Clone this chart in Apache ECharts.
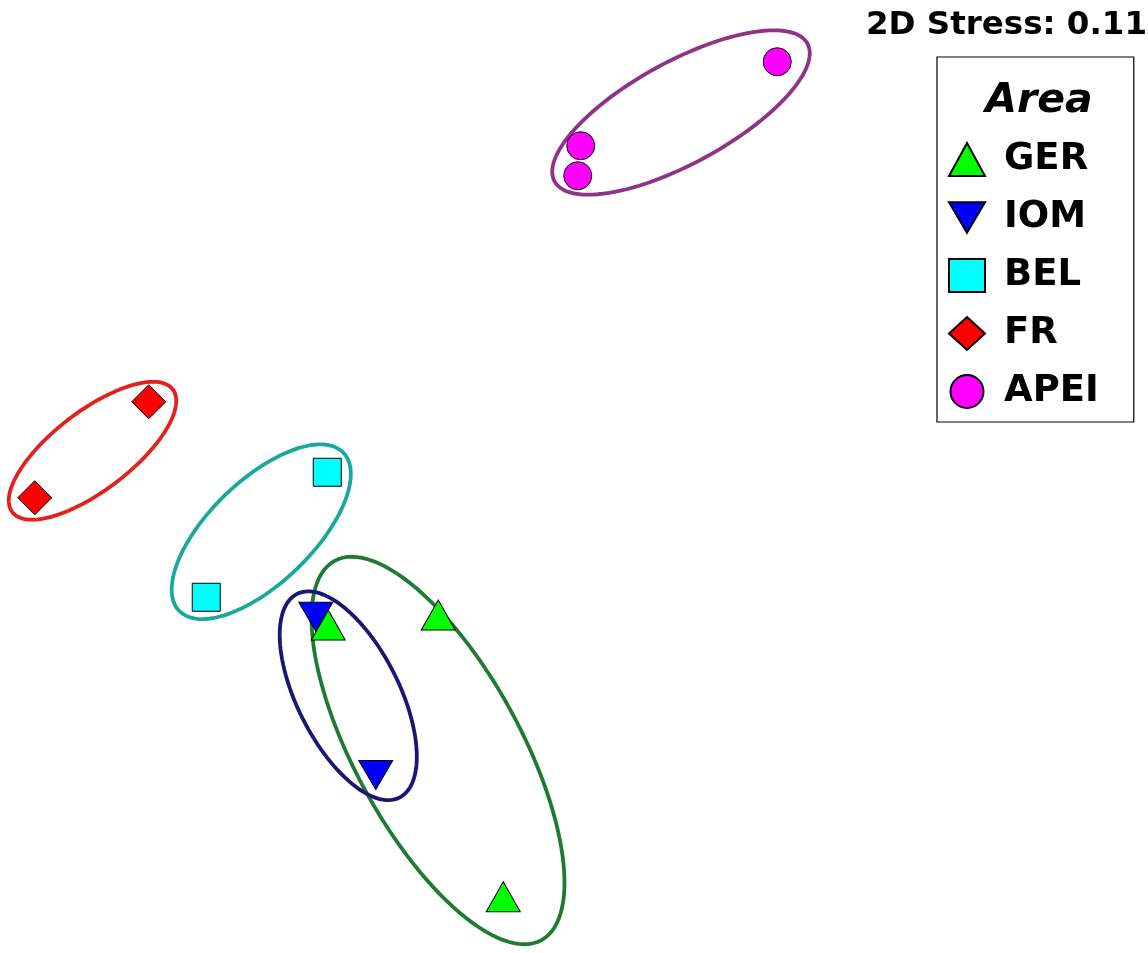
<!DOCTYPE html>
<html>
<head>
<meta charset="utf-8">
<script src="https://cdn.jsdelivr.net/npm/echarts@6/dist/echarts.min.js"></script>
<style>
html,body{margin:0;padding:0;background:#fff;}
#main{width:1148px;height:953px;}
</style>
</head>
<body>
<div id="main"></div>
<script>
// nMDS ordination scores (x = MDS1, y = MDS2)
var GER  = [[-0.687, -0.600], [-0.247, -0.560], [0.013, -1.687]];
var IOM  = [[-0.737, -0.567], [-0.497, -1.200]];
var BEL  = [[-0.691, 0.011], [-1.175, -0.489]];
var FR   = [[-1.405, 0.293], [-1.861, -0.091]];
var APEI = [[1.109, 1.653], [0.323, 1.317], [0.311, 1.197]];

// group ellipses: centre x, centre y, semi-axis a, semi-axis b, angle (deg)
var ellGER  = [[-0.248, -1.102, 0.864, 0.332, -61.4]];
var ellIOM  = [[-0.607, -0.883, 0.456, 0.204, -63.3]];
var ellBEL  = [[-0.955, -0.227, 0.456, 0.206, 43.9]];
var ellFR   = [[-1.630, 0.097, 0.404, 0.158, 37.4]];
var ellAPEI = [[0.724, 1.450, 0.576, 0.204, 28.6]];

var groups = ['GER', 'IOM', 'BEL', 'FR', 'APEI'];
var stress = '0.11';

var FONT = 'DejaVu Sans';
var DOWN_TRI = 'path://M0,0L2,0L1,1.7Z';

function ellipseSeries(name, data, color){
	return {
		name: name,
		type: 'custom',
		data: data,
		clip: false,
		silent: true,
		z: 1,
		renderItem: function(params, api){
			var cx = api.value(0), cy = api.value(1);
			var a = api.value(2), b = api.value(3);
			var ang = api.value(4) * Math.PI / 180;
			var pts = [];
			for (var i = 0; i < 120; i++) {
				var t = i / 120 * 2 * Math.PI;
				var ex = a * Math.cos(t), ey = b * Math.sin(t);
				pts.push(api.coord([
					cx + ex * Math.cos(ang) - ey * Math.sin(ang),
					cy + ex * Math.sin(ang) + ey * Math.cos(ang)
				]));
			}
			return {
				type: 'polygon',
				shape: {points: pts},
				style: {fill: 'none', stroke: color, lineWidth: 3.8}
			};
		}
	};
}

function pointSeries(name, data, symbol, size, color){
	return {
		name: name,
		type: 'scatter',
		data: data,
		symbol: symbol,
		symbolSize: size,
		z: 3,
		itemStyle: {color: color, borderColor: '#000', borderWidth: 1, opacity: 1}
	};
}

var chart = echarts.init(document.getElementById('main'));
chart.setOption({
	animation: false,
	backgroundColor: '#fff',
	title: [{
		text: '2D Stress: ' + stress,
		right: -4,
		top: 4,
		textStyle: {fontFamily: FONT, fontWeight: 'bold', fontSize: 32.5, color: '#000'}
	}, {
		text: 'Area',
		left: 1034,
		textAlign: 'center',
		top: 76,
		textStyle: {fontFamily: FONT, fontWeight: 'bold', fontStyle: 'italic', fontSize: 41, color: '#000'}
	}],
	grid: {left: 0, top: 0, width: 1000, height: 950, show: false},
	xAxis: {type: 'value', min: -2, max: 2, show: false, splitLine: {show: false}},
	yAxis: {type: 'value', min: -1.9, max: 1.9, show: false, splitLine: {show: false}},
	legend: {
		orient: 'vertical',
		left: 937,
		top: 57,
		padding: [84, 35, 12, 11],
		itemWidth: 36,
		itemHeight: 33,
		itemGap: 21,
		borderColor: '#000',
		borderWidth: 1.2,
		textStyle: {fontFamily: FONT, fontWeight: 'bold', fontSize: 37, color: '#000', padding: [0, 0, 0, 14]},
		data: groups
	},
	series: [
		ellipseSeries('GER ellipse', ellGER, '#1f7a34'),
		ellipseSeries('IOM ellipse', ellIOM, '#1b1673'),
		ellipseSeries('BEL ellipse', ellBEL, '#1aa89c'),
		ellipseSeries('FR ellipse', ellFR, '#e2211c'),
		ellipseSeries('APEI ellipse', ellAPEI, '#8e3387'),
		pointSeries('GER', GER, 'triangle', [34, 30], '#00ff00'),
		pointSeries('IOM', IOM, DOWN_TRI, [34, 29], '#0000ff'),
		pointSeries('BEL', BEL, 'rect', [28, 28], '#00ffff'),
		pointSeries('FR', FR, 'diamond', [34, 34], '#ff0000'),
		pointSeries('APEI', APEI, 'circle', [28, 28], '#ff00ff')
	]
});
</script>
</body>
</html>
